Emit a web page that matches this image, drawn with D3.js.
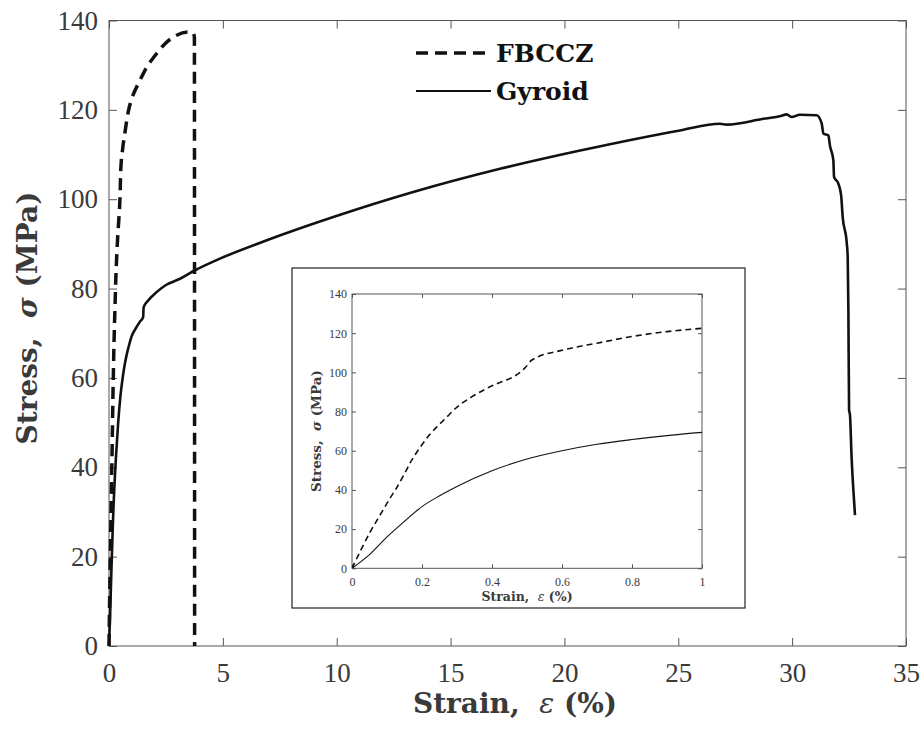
<!DOCTYPE html>
<html>
<head>
<meta charset="utf-8">
<script src="https://cdn.jsdelivr.net/npm/d3@7"></script>
<style>
  html, body { margin: 0; padding: 0; background: #fff; }
  svg { display: block; }
  text { font-family: "Liberation Serif", "DejaVu Serif", serif; }
  .bold { font-family: "DejaVu Serif", serif; font-weight: bold; }
</style>
</head>
<body>
<svg id="chart" width="921" height="731"></svg>
<script>
// ---------- data ----------
const fbcczStrain = [0, 0.05, 0.086, 0.11, 0.124, 0.148, 0.171, 0.195, 0.219, 0.243, 0.267, 0.3, 0.343, 0.386, 0.429, 0.462, 0.495, 0.514, 0.605, 0.7, 0.8, 0.9, 1.0, 1.36, 1.65, 2.0, 2.46, 2.97, 3.47, 3.7, 3.75, 3.76];
const fbcczStress = [0, 17.9, 28.9, 36.2, 40, 47.6, 55.3, 61.8, 67.6, 72.3, 76.5, 82.3, 87.6, 91.9, 95.3, 97.8, 102.4, 106.3, 111.5, 114.9, 118.3, 120.8, 122.5, 126.6, 129.5, 132, 134.8, 136.7, 137.4, 137.2, 136.3, 0];

const gyroidStrain = [0, 0.05, 0.1, 0.15, 0.2, 0.25, 0.3, 0.4, 0.5, 0.6, 0.7, 0.8, 0.9, 1.0, 1.2, 1.36, 1.5, 1.52, 1.7, 2.09, 2.5, 3.12, 3.78, 4.87, 6.93, 9.85, 13.36, 17.17, 20.69, 25.08, 26.83, 27.13, 28.74, 29.5, 29.76, 29.98, 30.34, 31.08, 31.3, 31.37, 31.59, 31.66, 31.81, 31.84, 32.03, 32.15, 32.22, 32.4, 32.44, 32.47, 32.5, 32.54, 32.61, 32.68, 32.76];
const gyroidStress = [0, 7, 16, 24, 31.5, 37, 41.8, 49.8, 55.8, 60, 63.3, 65.7, 67.7, 69.4, 71.3, 72.6, 73.6, 75.8, 77.2, 79.2, 80.8, 82.2, 84.1, 86.7, 90.8, 96.0, 101.6, 106.8, 110.9, 115.4, 116.9, 116.7, 118, 118.6, 119, 118.4, 118.9, 118.8, 116.9, 114.7, 114.3, 112, 108.7, 105, 103.5, 100.9, 96, 90.1, 87.1, 75.1, 52.8, 51.7, 42.3, 35.6, 29.3];

const seriesNames = ["FBCCZ", "Gyroid"];
const mainXTicks = [0, 5, 10, 15, 20, 25, 30, 35];
const mainYTicks = [0, 20, 40, 60, 80, 100, 120, 140];
const insetXTicks = [0, 0.2, 0.4, 0.6, 0.8, 1];
const insetYTicks = [0, 20, 40, 60, 80, 100, 120, 140];

const fbccz = fbcczStrain.map((x, i) => ({x, y: fbcczStress[i]}));
const gyroid = gyroidStrain.map((x, i) => ({x, y: gyroidStress[i]}));

// ---------- main chart ----------
const svg = d3.select("#chart");
const M = {left: 109, right: 906, top: 20.5, bottom: 646};
const x = d3.scaleLinear().domain([0, 35]).range([M.left, M.right]);
const y = d3.scaleLinear().domain([0, 140]).range([M.bottom, M.top]);
const tickColor = "#555";
const labelColor = "#3a3a3a";

function drawAxes(g, xs, ys, xt, yt, opts) {
  const {tick, fs, xfmt, yfmt, xOff, yOff} = opts;
  const [x0, x1] = xs.range();
  const [y0, y1] = ys.range();
  g.append("rect").attr("x", x0).attr("y", y1).attr("width", x1 - x0).attr("height", y0 - y1)
    .attr("fill", "none").attr("stroke", tickColor).attr("stroke-width", 1);
  const gx = g.append("g").attr("transform", `translate(0,${y0})`)
    .call(d3.axisBottom(xs).tickValues(xt).tickSize(-tick).tickPadding(xOff).tickFormat(xfmt));
  const gxt = g.append("g").attr("transform", `translate(0,${y1})`)
    .call(d3.axisTop(xs).tickValues(xt).tickSize(-tick).tickFormat(""));
  const gy = g.append("g").attr("transform", `translate(${x0},0)`)
    .call(d3.axisLeft(ys).tickValues(yt).tickSize(-tick).tickPadding(yOff).tickFormat(yfmt));
  const gyr = g.append("g").attr("transform", `translate(${x1},0)`)
    .call(d3.axisRight(ys).tickValues(yt).tickSize(-tick).tickFormat(""));
  [gx, gxt, gy, gyr].forEach(a => {
    a.select(".domain").remove();
    a.selectAll("line").attr("stroke", tickColor);
    a.selectAll("text").attr("fill", labelColor).attr("font-size", fs)
      .attr("font-family", '"Liberation Serif", serif');
  });
}

drawAxes(svg.append("g"), x, y, mainXTicks, mainYTicks,
  {tick: 8, fs: 27, xfmt: d3.format("d"), yfmt: d3.format("d"), xOff: 17, yOff: 11});

const line = (xs, ys) => d3.line().x(d => xs(d.x)).y(d => ys(d.y)).curve(d3.curveMonotoneX);

svg.append("path").attr("d", line(x, y)(gyroid))
  .attr("fill", "none").attr("stroke", "#111").attr("stroke-width", 2.6).attr("stroke-linejoin", "round");
svg.append("path").attr("d", line(x, y)(fbccz))
  .attr("fill", "none").attr("stroke", "#111").attr("stroke-width", 3.5).attr("stroke-dasharray", "12,7");

// axis titles
svg.append("text").attr("class", "bold").attr("x", 515).attr("y", 713).attr("text-anchor", "middle")
  .attr("font-size", 28).attr("fill", labelColor)
  .html('Strain,&#160;&#160;<tspan font-style="italic" font-weight="normal">ε</tspan> (%)');
svg.append("text").attr("class", "bold").attr("transform", "translate(37,318) rotate(-90)").attr("text-anchor", "middle")
  .attr("font-size", 28).attr("fill", labelColor)
  .html('Stress,&#160;&#160;<tspan font-style="italic">σ</tspan> (MPa)');

// legend
const leg = svg.append("g");
[[seriesNames[0], 53, "12,7", 3.5], [seriesNames[1], 91, null, 2]].forEach(([name, ly, dash, w]) => {
  const l = leg.append("line").attr("x1", 416).attr("x2", 491).attr("y1", ly).attr("y2", ly)
    .attr("stroke", "#111").attr("stroke-width", w);
  if (dash) l.attr("stroke-dasharray", dash);
  leg.append("text").attr("class", "bold").attr("x", 496).attr("y", ly + 9).attr("font-size", 25)
    .attr("fill", "#111").text(name);
});

// ---------- inset ----------
const ins = svg.append("g");
ins.append("rect").attr("x", 292).attr("y", 268).attr("width", 453).attr("height", 340)
  .attr("fill", "#fff").attr("stroke", "#222").attr("stroke-width", 1.2);
const xi = d3.scaleLinear().domain([0, 1]).range([352, 702]);
const yi = d3.scaleLinear().domain([0, 140]).range([568.3, 294]);
drawAxes(ins, xi, yi, insetXTicks, insetYTicks,
  {tick: 4, fs: 12, xfmt: d => d3.format("")(d), yfmt: d3.format("d"), xOff: 9, yOff: 5});

ins.append("clipPath").attr("id", "insclip").append("rect")
  .attr("x", 352).attr("y", 294).attr("width", 350).attr("height", 274.3);
const clipG = ins.append("g").attr("clip-path", "url(#insclip)");
clipG.append("path").attr("d", line(xi, yi)(gyroid))
  .attr("fill", "none").attr("stroke", "#111").attr("stroke-width", 1.1);
clipG.append("path").attr("d", line(xi, yi)(fbccz))
  .attr("fill", "none").attr("stroke", "#111").attr("stroke-width", 1.6).attr("stroke-dasharray", "6,4");

ins.append("text").attr("class", "bold").attr("x", 527).attr("y", 601).attr("text-anchor", "middle")
  .attr("font-size", 12.5).attr("fill", labelColor)
  .html('Strain,&#160;&#160;<tspan font-style="italic" font-weight="normal">ε</tspan> (%)');
ins.append("text").attr("class", "bold").attr("transform", "translate(321,431) rotate(-90)").attr("text-anchor", "middle")
  .attr("font-size", 13.5).attr("fill", labelColor)
  .html('Stress,&#160;&#160;<tspan font-style="italic">σ</tspan> (MPa)');
</script>
</body>
</html>
